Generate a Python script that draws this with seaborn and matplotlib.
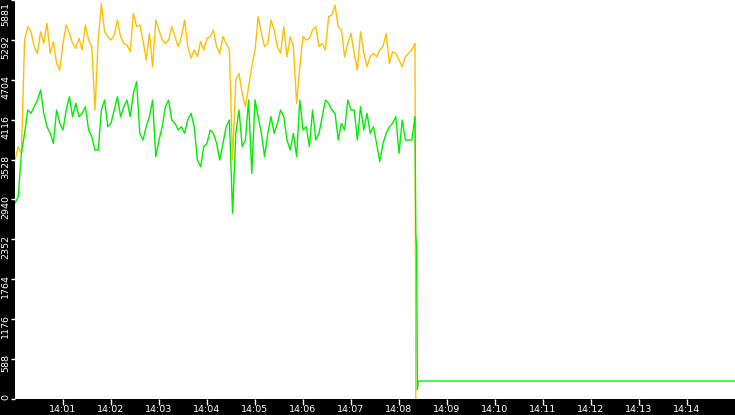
import numpy as np
import pandas as pd
import matplotlib
matplotlib.use("Agg")
import matplotlib.pyplot as plt
import matplotlib.dates as mdates
import seaborn as sns
from matplotlib.transforms import ScaledTranslation

sns.set_theme(style="white")
plt.rcParams["font.family"] = ["DejaVu Sans"]

DAY = "2024-01-01"
GOLD = "#ffbf00"
GREEN = "#00ee00"

# samples every 4 s from 14:00:00
gold_values = [
    3523, 3719, 3621, 5291, 5488, 5414, 5193, 5095, 5414, 5242, 5537, 5095,
    5267, 4948, 4849, 5242, 5513, 5390, 5242, 5168, 5316, 5144, 5513, 5291,
    5193, 4260, 5291, 5832, 5414, 5341, 5291, 5365, 5586,
    5341, 5242, 5218, 5119, 5684, 5488, 5513, 5291, 4997, 5390, 4898, 5586,
    5439, 5291, 5242, 5291, 5488, 5341, 5193, 5341, 5586, 5193, 5021, 5144,
    5046, 5267, 5144, 5316, 5341, 5439, 5193,
    5095, 5341, 5242, 5144, 3523, 4702, 4800, 4505, 4309, 4604, 4898, 5144,
    5635, 5390, 5193, 5242, 5586, 5439, 5193, 5095, 5488, 5046, 5341, 5193,
    4358, 4898, 5341, 5291, 5316, 5439, 5488,
    5193, 5242, 5144, 5635, 5660, 5807, 5488, 5439, 5046, 5242, 5390, 5095,
    4849, 5414, 5095, 4898, 5046, 5095, 5046, 5144, 5193, 5390, 4948, 5119,
    5095, 4997, 4898, 5046, 5095, 5144, 5242,
]
green_values = [
    2884, 2982, 3621, 3916, 4260, 4211, 4309, 4407, 4554, 4211, 4014, 3916,
    3768, 4260, 4063, 3965, 4260, 4456, 4161, 4358, 4161, 4211, 4309, 3965,
    3867, 3670, 3670, 4260, 4407, 4014, 4063, 4260, 4456,
    4161, 4309, 4407, 4161, 4505, 4677, 3916, 3818, 4014, 4161, 4407, 3572,
    3818, 4014, 4309, 4407, 4112, 4063, 3965, 4014, 3916, 4112, 4211, 4014,
    3523, 3424, 3719, 3768, 3965, 3916, 3768,
    3523, 3768, 4014, 4112, 2737, 3916, 4260, 3719, 3818, 4407, 3326, 4407,
    4161, 3916, 3572, 3916, 4161, 3916, 4063, 4260, 4161, 3818, 3670, 3916,
    3572, 4407, 3965, 4014, 3719, 4260, 3818,
    3916, 4161, 4407, 4358, 4260, 4211, 3818, 4063, 3965, 4407, 4260, 4260,
    3818, 4309, 3965, 4211, 3916, 4014, 3768, 3500, 3768, 3916, 4014, 4063,
    4161, 3621, 4112, 3818, 3818, 3818, 4161,
]
gold_tail_times = ["14:08:21"]
gold_tail = [0]
green_tail_times = ["14:08:21", "14:08:22", "14:08:23", "14:08:24", "14:15:00"]
green_tail = [2450, 2200, 140, 265, 265]

x_range = ["14:00:00", "14:15:00"]
x_tick_times = ["14:%02d" % m for m in range(1, 15)]
y_max = 5881
y_tick_labels = ["0", "588", "1176", "1764", "2352", "2940",
                 "3528", "4116", "4704", "5292", "5881"]


def build_series(values, tail_times, tail_values):
    times = pd.date_range(f"{DAY} 14:00:00", periods=len(values), freq="4s")
    tail = pd.to_datetime([f"{DAY} {t}" for t in tail_times])
    return pd.DataFrame({
        "time": list(times) + list(tail),
        "value": list(values) + list(tail_values),
    })


gold_df = build_series(gold_values, gold_tail_times, gold_tail)
green_df = build_series(green_values, green_tail_times, green_tail)

fig = plt.figure(figsize=(7.35, 4.15), dpi=100, facecolor="black")
ax = fig.add_axes([15 / 735, 16 / 415, 720 / 735, 399 / 415])
ax.set_facecolor("white")

sns.lineplot(data=gold_df, x="time", y="value", color=GOLD, linewidth=1.0,
             estimator=None, ax=ax)
sns.lineplot(data=green_df, x="time", y="value", color=GREEN, linewidth=1.0,
             estimator=None, ax=ax)

ax.set_xlim(pd.to_datetime([f"{DAY} {t}" for t in x_range]))
ax.set_ylim(0, y_max)
ax.set_xticks(pd.to_datetime([f"{DAY} {t}" for t in x_tick_times]))
ax.xaxis.set_major_formatter(mdates.DateFormatter("%H:%M"))
ax.set_yticks(np.linspace(0, y_max, len(y_tick_labels)), y_tick_labels)
ax.set_xlabel("")
ax.set_ylabel("")

for side in ax.spines.values():
    side.set_visible(False)

ax.tick_params(axis="both", colors="white", labelsize=6.8, width=1,
               direction="out", left=True, bottom=True)
ax.tick_params(axis="x", length=4, pad=0.3)
ax.tick_params(axis="y", length=3, pad=0.5)

labels = ax.get_yticklabels()
for i, lab in enumerate(labels):
    lab.set_rotation(90)
    lab.set_va("top")
    shift = 0.05 if i < len(labels) - 1 else -0.02
    lab.set_transform(lab.get_transform()
                      + ScaledTranslation(0, shift, fig.dpi_scale_trans))

fig.savefig("out.png", dpi=100, facecolor="black")
